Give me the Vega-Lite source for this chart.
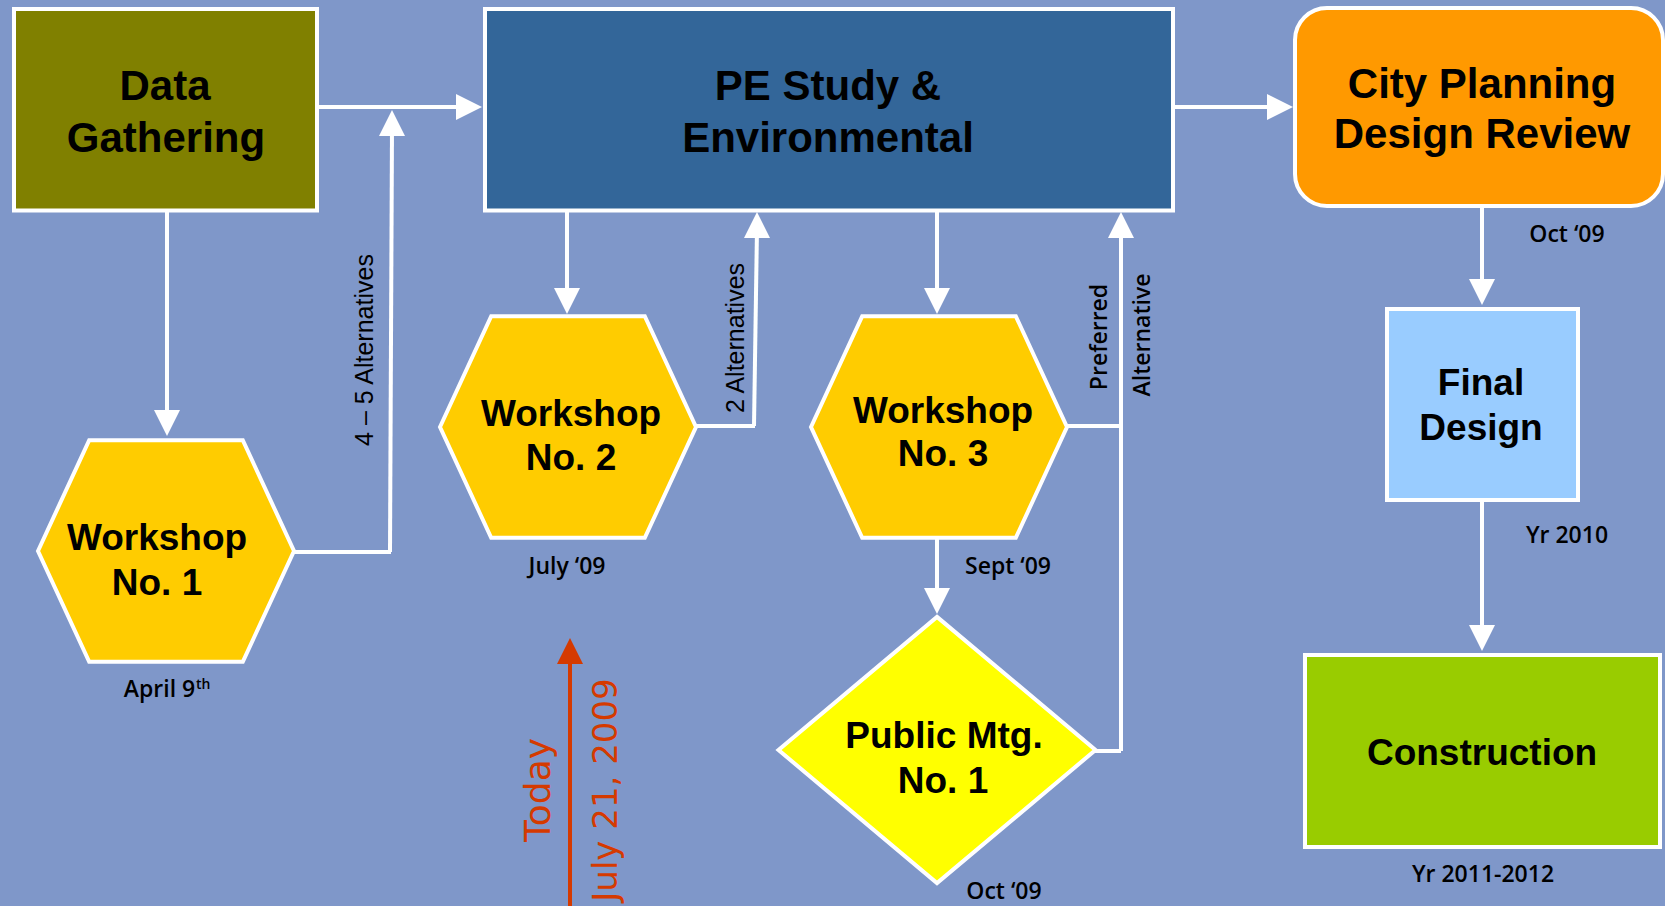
{
  "$schema": "https://vega.github.io/schema/vega-lite/v6.json",
  "width": 1665,
  "height": 906,
  "padding": 0,
  "autosize": {"type": "none"},
  "background": "#7F97C9",
  "config": {"view": {"stroke": null}},
  "datasets": {
    "boxes": [
      {"name": "Data Gathering", "x1": 14, "x2": 317, "y1": 9, "y2": 210.5},
      {"name": "PE Study & Environmental", "x1": 485, "x2": 1173, "y1": 9, "y2": 210.5},
      {"name": "Final Design", "x1": 1387, "x2": 1578, "y1": 309, "y2": 500},
      {"name": "Construction", "x1": 1305, "x2": 1660, "y1": 655, "y2": 847}
    ],
    "review": [
      {"name": "City Planning Design Review", "x1": 1295, "x2": 1663, "y1": 8, "y2": 206}
    ],
    "hexes": [
      {"name": "Workshop No. 1", "x": 166, "y": 551},
      {"name": "Workshop No. 2", "x": 568, "y": 427},
      {"name": "Workshop No. 3", "x": 939, "y": 427}
    ],
    "diamonds": [
      {"name": "Public Mtg. No. 1", "x": 937, "y": 750}
    ],
    "links": [
      {"x1": 319, "y1": 107, "x2": 470, "y2": 107},
      {"x1": 294, "y1": 552, "x2": 391, "y2": 552},
      {"x1": 390, "y1": 552, "x2": 392, "y2": 128},
      {"x1": 167, "y1": 212, "x2": 167, "y2": 420},
      {"x1": 567, "y1": 212, "x2": 567, "y2": 298},
      {"x1": 696, "y1": 426, "x2": 755, "y2": 426},
      {"x1": 754, "y1": 426, "x2": 757, "y2": 228},
      {"x1": 937, "y1": 212, "x2": 937, "y2": 298},
      {"x1": 937, "y1": 538, "x2": 937, "y2": 600},
      {"x1": 1067, "y1": 426, "x2": 1121, "y2": 426},
      {"x1": 1095, "y1": 751, "x2": 1121, "y2": 751},
      {"x1": 1121, "y1": 751, "x2": 1121, "y2": 228},
      {"x1": 1175, "y1": 107, "x2": 1280, "y2": 107},
      {"x1": 1482, "y1": 208, "x2": 1482, "y2": 290},
      {"x1": 1482, "y1": 502, "x2": 1482, "y2": 636}
    ],
    "heads": [
      {"dir": "right", "x": 482, "y": 107},
      {"dir": "up", "x": 392, "y": 110},
      {"dir": "down", "x": 167, "y": 436},
      {"dir": "down", "x": 567, "y": 314},
      {"dir": "up", "x": 757, "y": 212},
      {"dir": "down", "x": 937, "y": 314},
      {"dir": "down", "x": 937, "y": 614},
      {"dir": "up", "x": 1121, "y": 212},
      {"dir": "right", "x": 1293, "y": 107},
      {"dir": "down", "x": 1482, "y": 305},
      {"dir": "down", "x": 1482, "y": 651}
    ],
    "today": [
      {"x1": 570, "y1": 906, "x2": 570, "y2": 652}
    ],
    "todayHead": [
      {"dir": "up", "x": 570, "y": 638}
    ],
    "bigText": [
      {"t": "Data", "x": 165, "y": 87},
      {"t": "Gathering", "x": 166, "y": 139},
      {"t": "PE Study &", "x": 828, "y": 87},
      {"t": "Environmental", "x": 828, "y": 139},
      {"t": "City Planning", "x": 1482, "y": 85},
      {"t": "Design Review", "x": 1482, "y": 135}
    ],
    "midText": [
      {"t": "Workshop", "x": 157, "y": 539},
      {"t": "No. 1", "x": 157, "y": 584},
      {"t": "Workshop", "x": 571, "y": 415},
      {"t": "No. 2", "x": 571, "y": 459},
      {"t": "Workshop", "x": 943, "y": 412},
      {"t": "No. 3", "x": 943, "y": 455},
      {"t": "Public Mtg.", "x": 944, "y": 737},
      {"t": "No. 1", "x": 943, "y": 782},
      {"t": "Final", "x": 1481, "y": 384},
      {"t": "Design", "x": 1481, "y": 429},
      {"t": "Construction", "x": 1482, "y": 754}
    ],
    "dates": [
      {"t": "April 9", "x": 159.5, "y": 689.5},
      {"t": "July ‘09", "x": 567, "y": 567},
      {"t": "Sept ‘09", "x": 1008, "y": 567},
      {"t": "Oct ‘09", "x": 1004, "y": 892},
      {"t": "Oct ‘09", "x": 1567, "y": 235},
      {"t": "Yr 2010", "x": 1567, "y": 535.5},
      {"t": "Yr 2011-2012", "x": 1483, "y": 875}
    ],
    "sup": [
      {"t": "th", "x": 196, "y": 689}
    ],
    "rotRegular": [
      {"t": "4 – 5  Alternatives", "x": 365, "y": 350},
      {"t": "2  Alternatives", "x": 736, "y": 338}
    ],
    "rotBold": [
      {"t": "Preferred", "x": 1100, "y": 337},
      {"t": "Alternative", "x": 1143, "y": 335}
    ],
    "redBig": [
      {"t": "Today", "x": 539, "y": 790}
    ],
    "redDate": [
      {"t": "July 21, 2009", "x": 607, "y": 790}
    ]
  },
  "layer": [
    {
      "data": {"name": "links"},
      "mark": {"type": "rule", "color": "white", "strokeWidth": 4},
      "encoding": {
        "x": {"field": "x1", "type": "quantitative", "scale": {"domain": [0, 1665], "nice": false, "zero": false}, "axis": null},
        "y": {"field": "y1", "type": "quantitative", "scale": {"domain": [0, 906], "nice": false, "zero": false, "reverse": true}, "axis": null},
        "x2": {"field": "x2"},
        "y2": {"field": "y2"}
      }
    },
    {
      "data": {"name": "today"},
      "mark": {"type": "rule", "color": "#D53A00", "strokeWidth": 4},
      "encoding": {
        "x": {"field": "x1", "type": "quantitative", "scale": {"domain": [0, 1665], "nice": false, "zero": false}, "axis": null},
        "y": {"field": "y1", "type": "quantitative", "scale": {"domain": [0, 906], "nice": false, "zero": false, "reverse": true}, "axis": null},
        "x2": {"field": "x2"},
        "y2": {"field": "y2"}
      }
    },
    {
      "data": {"name": "boxes"},
      "mark": {"type": "rect", "stroke": "white", "strokeWidth": 4, "opacity": 1},
      "encoding": {
        "x": {"field": "x1", "type": "quantitative", "scale": {"domain": [0, 1665], "nice": false, "zero": false}, "axis": null},
        "y": {"field": "y1", "type": "quantitative", "scale": {"domain": [0, 906], "nice": false, "zero": false, "reverse": true}, "axis": null},
        "x2": {"field": "x2"},
        "y2": {"field": "y2"},
        "fill": {"field": "name", "type": "nominal", "legend": null,
          "scale": {"domain": ["Data Gathering", "PE Study & Environmental", "Final Design", "Construction"],
                    "range": ["#808000", "#336699", "#99CCFF", "#99CC00"]}}
      }
    },
    {
      "data": {"name": "review"},
      "mark": {"type": "rect", "fill": "#FF9900", "stroke": "white", "strokeWidth": 4, "cornerRadius": 32, "opacity": 1},
      "encoding": {
        "x": {"field": "x1", "type": "quantitative", "scale": {"domain": [0, 1665], "nice": false, "zero": false}, "axis": null},
        "y": {"field": "y1", "type": "quantitative", "scale": {"domain": [0, 906], "nice": false, "zero": false, "reverse": true}, "axis": null},
        "x2": {"field": "x2"},
        "y2": {"field": "y2"}
      }
    },
    {
      "data": {"name": "hexes"},
      "mark": {"type": "point", "shape": "M -1 0 L -0.6 -0.866 L 0.6 -0.866 L 1 0 L 0.6 0.866 L -0.6 0.866 Z",
               "size": 65536, "filled": true, "fill": "#FFCC00", "stroke": "white", "strokeWidth": 4, "opacity": 1},
      "encoding": {
        "x": {"field": "x", "type": "quantitative", "scale": {"domain": [0, 1665], "nice": false, "zero": false}, "axis": null},
        "y": {"field": "y", "type": "quantitative", "scale": {"domain": [0, 906], "nice": false, "zero": false, "reverse": true}, "axis": null}
      }
    },
    {
      "data": {"name": "diamonds"},
      "mark": {"type": "point", "shape": "M 0 -0.84 L 1 0 L 0 0.84 L -1 0 Z",
               "size": 100489, "filled": true, "fill": "#FFFF00", "stroke": "white", "strokeWidth": 4, "opacity": 1},
      "encoding": {
        "x": {"field": "x", "type": "quantitative", "scale": {"domain": [0, 1665], "nice": false, "zero": false}, "axis": null},
        "y": {"field": "y", "type": "quantitative", "scale": {"domain": [0, 906], "nice": false, "zero": false, "reverse": true}, "axis": null}
      }
    },
    {
      "data": {"name": "heads"},
      "mark": {"type": "point", "size": 676, "filled": true, "fill": "white", "opacity": 1, "strokeWidth": 0},
      "encoding": {
        "x": {"field": "x", "type": "quantitative", "scale": {"domain": [0, 1665], "nice": false, "zero": false}, "axis": null},
        "y": {"field": "y", "type": "quantitative", "scale": {"domain": [0, 906], "nice": false, "zero": false, "reverse": true}, "axis": null},
        "shape": {"field": "dir", "type": "nominal", "legend": null,
          "scale": {"domain": ["up", "down", "right"],
                    "range": ["M 0 0 L 1 2 L -1 2 Z", "M 0 0 L 1 -2 L -1 -2 Z", "M 0 0 L -2 1 L -2 -1 Z"]}}
      }
    },
    {
      "data": {"name": "todayHead"},
      "mark": {"type": "point", "size": 676, "filled": true, "fill": "#D53A00", "opacity": 1, "strokeWidth": 0,
               "shape": "M 0 0 L 1 2 L -1 2 Z"},
      "encoding": {
        "x": {"field": "x", "type": "quantitative", "scale": {"domain": [0, 1665], "nice": false, "zero": false}, "axis": null},
        "y": {"field": "y", "type": "quantitative", "scale": {"domain": [0, 906], "nice": false, "zero": false, "reverse": true}, "axis": null}
      }
    },
    {
      "data": {"name": "bigText"},
      "mark": {"type": "text", "font": "Liberation Sans", "fontWeight": "bold", "fontSize": 42, "align": "center", "baseline": "middle", "color": "black"},
      "encoding": {
        "x": {"field": "x", "type": "quantitative", "scale": {"domain": [0, 1665], "nice": false, "zero": false}, "axis": null},
        "y": {"field": "y", "type": "quantitative", "scale": {"domain": [0, 906], "nice": false, "zero": false, "reverse": true}, "axis": null},
        "text": {"field": "t"}
      }
    },
    {
      "data": {"name": "midText"},
      "mark": {"type": "text", "font": "Liberation Sans", "fontWeight": "bold", "fontSize": 37, "align": "center", "baseline": "middle", "color": "black"},
      "encoding": {
        "x": {"field": "x", "type": "quantitative", "scale": {"domain": [0, 1665], "nice": false, "zero": false}, "axis": null},
        "y": {"field": "y", "type": "quantitative", "scale": {"domain": [0, 906], "nice": false, "zero": false, "reverse": true}, "axis": null},
        "text": {"field": "t"}
      }
    },
    {
      "data": {"name": "dates"},
      "mark": {"type": "text", "font": "Open Sans", "fontWeight": 600, "fontSize": 23, "align": "center", "baseline": "middle", "color": "black"},
      "encoding": {
        "x": {"field": "x", "type": "quantitative", "scale": {"domain": [0, 1665], "nice": false, "zero": false}, "axis": null},
        "y": {"field": "y", "type": "quantitative", "scale": {"domain": [0, 906], "nice": false, "zero": false, "reverse": true}, "axis": null},
        "text": {"field": "t"}
      }
    },
    {
      "data": {"name": "sup"},
      "mark": {"type": "text", "font": "Open Sans", "fontWeight": 600, "fontSize": 14, "align": "left", "baseline": "alphabetic", "color": "black"},
      "encoding": {
        "x": {"field": "x", "type": "quantitative", "scale": {"domain": [0, 1665], "nice": false, "zero": false}, "axis": null},
        "y": {"field": "y", "type": "quantitative", "scale": {"domain": [0, 906], "nice": false, "zero": false, "reverse": true}, "axis": null},
        "text": {"field": "t"}
      }
    },
    {
      "data": {"name": "rotRegular"},
      "mark": {"type": "text", "font": "Liberation Sans", "fontSize": 25, "angle": 270, "align": "center", "baseline": "middle", "color": "black"},
      "encoding": {
        "x": {"field": "x", "type": "quantitative", "scale": {"domain": [0, 1665], "nice": false, "zero": false}, "axis": null},
        "y": {"field": "y", "type": "quantitative", "scale": {"domain": [0, 906], "nice": false, "zero": false, "reverse": true}, "axis": null},
        "text": {"field": "t"}
      }
    },
    {
      "data": {"name": "rotBold"},
      "mark": {"type": "text", "font": "Open Sans", "fontWeight": 600, "fontSize": 23, "angle": 270, "align": "center", "baseline": "middle", "color": "black"},
      "encoding": {
        "x": {"field": "x", "type": "quantitative", "scale": {"domain": [0, 1665], "nice": false, "zero": false}, "axis": null},
        "y": {"field": "y", "type": "quantitative", "scale": {"domain": [0, 906], "nice": false, "zero": false, "reverse": true}, "axis": null},
        "text": {"field": "t"}
      }
    },
    {
      "data": {"name": "redBig"},
      "mark": {"type": "text", "font": "DejaVu Sans", "fontSize": 36, "angle": 270, "align": "center", "baseline": "middle", "color": "#D53A00"},
      "encoding": {
        "x": {"field": "x", "type": "quantitative", "scale": {"domain": [0, 1665], "nice": false, "zero": false}, "axis": null},
        "y": {"field": "y", "type": "quantitative", "scale": {"domain": [0, 906], "nice": false, "zero": false, "reverse": true}, "axis": null},
        "text": {"field": "t"}
      }
    },
    {
      "data": {"name": "redDate"},
      "mark": {"type": "text", "font": "DejaVu Sans", "fontSize": 34, "angle": 270, "align": "center", "baseline": "middle", "color": "#D53A00"},
      "encoding": {
        "x": {"field": "x", "type": "quantitative", "scale": {"domain": [0, 1665], "nice": false, "zero": false}, "axis": null},
        "y": {"field": "y", "type": "quantitative", "scale": {"domain": [0, 906], "nice": false, "zero": false, "reverse": true}, "axis": null},
        "text": {"field": "t"}
      }
    }
  ]
}
